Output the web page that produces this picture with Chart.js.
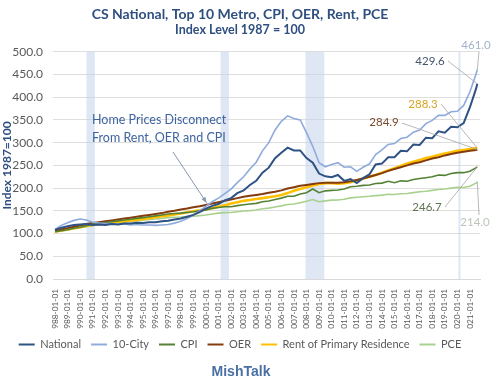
<!DOCTYPE html>
<html><head><meta charset="utf-8">
<script src="https://cdn.jsdelivr.net/npm/chart.js@4/dist/chart.umd.min.js"></script>
<style>html,body{margin:0;padding:0;background:#fff}#wrap{width:500px;height:382px;position:relative}</style>
</head><body><div id="wrap"><canvas id="c" width="500" height="382"></canvas></div>
<script>
// ---- data (semi-annual readings, Jan & Jul, plus last month) ----
const dates = ["1988-01","1988-07","1989-01","1989-07","1990-01","1990-07","1991-01","1991-07","1992-01","1992-07",
"1993-01","1993-07","1994-01","1994-07","1995-01","1995-07","1996-01","1996-07","1997-01","1997-07",
"1998-01","1998-07","1999-01","1999-07","2000-01","2000-07","2001-01","2001-07","2002-01","2002-07",
"2003-01","2003-07","2004-01","2004-07","2005-01","2005-07","2006-01","2006-07","2007-01","2007-07",
"2008-01","2008-07","2009-01","2009-07","2010-01","2010-07","2011-01","2011-07","2012-01","2012-07",
"2013-01","2013-07","2014-01","2014-07","2015-01","2015-07","2016-01","2016-07","2017-01","2017-07",
"2018-01","2018-07","2019-01","2019-07","2020-01","2020-07","2021-01","2021-07","2021-08"];
const national = [108,113,116,119,120,121,119,120,119,121,120,122,122,124,123,125,125,127,128,131,
133,137,141,147,155,161,165,173,178,189,195,207,216,234,245,266,278,289,283,283,
266,256,232,226,224,229,216,220,211,222,230,252,254,268,268,282,281,296,295,311,
310,325,322,335,334,343,378,420,429.6];
const tenCity = [109,118,124,129,132,130,125,123,122,122,120,121,119,120,119,119,118,119,120,123,
127,133,140,150,160,170,178,188,198,212,225,242,257,282,300,328,347,359,353,350,
322,292,256,247,252,256,246,247,237,246,253,274,284,296,298,309,312,323,328,342,
349,360,360,368,369,382,412,452,461.0];
const cpi = [104,106,108.5,111.5,114,117,121,122,124,126,128,130,131.5,133.5,135,137,139,141,143,144,
145,146.5,148,150,152,155.5,157.5,159,159,161.5,163.5,165,166.5,170,171.5,175,178,182,182,187,
190,198,190,194,195,196,198,203,204,206,207,210,211,215,212,216,215,219,221,223,
225,229,228,232,234,234,237,245,246.7];
const oer = [106,109,112,115,118,121,123,125,127,129,131,133,135,137,139,141,143,145,148,150,
153,155,158,160,163,166,169,172,175,178,181,183,185,187,190,192,195,199,202,205,
207,209,211,212,212,212,213,215,218,221,225,229,233,238,242,246,250,254,257,261,
265,268,272,275,278,280,282,284,284.9];
const rent = [104,107,109,112,114,117,119,121,123,124,126,127,129,130,132,134,136,138,140,142,
144,147,149,151,153,156,159,162,166,169,172,174,176,178,180,182,185,189,194,198,
202,206,209,211,211,210,211,213,217,221,225,229,234,239,244,249,254,258,262,266,
269,273,276,279,282,284,286,288,288.3];
const pce = [104,106,108,110.5,113,115,117.5,119,120.5,122,123.5,125,126.5,128,129.5,131,132,133.5,135,136,
136.5,137.5,138,139.5,141,143,145,146,146.5,148,149.5,150.5,152,154.5,156,158.5,161,164,165,168,
171,175,170,172,173.5,174,175.5,178.5,180,181,182,183.5,184.5,186.5,186,187.5,188,190,192,193,
195,197,198,200,202,201.5,204,211.5,214.0];
const seriesNames = ["National","10-City","CPI","OER","Rent of Primary Residence","PCE"];
const tickLabels = ["1988-01-01","1989-01-01","1990-01-01","1991-01-01","1992-01-01","1993-01-01","1994-01-01",
"1995-01-01","1996-01-01","1997-01-01","1998-01-01","1999-01-01","2000-01-01","2001-01-01","2002-01-01",
"2003-01-01","2004-01-01","2005-01-01","2006-01-01","2007-01-01","2008-01-01","2009-01-01","2010-01-01",
"2011-01-01","2012-01-01","2013-01-01","2014-01-01","2015-01-01","2016-01-01","2017-01-01","2018-01-01",
"2019-01-01","2020-01-01","2021-01-01"];
const recessions = [["1990-07","1991-03"],["2001-03","2001-11"],["2007-12","2009-06"],["2020-02","2020-04"]];
const yTicks = [0,50,100,150,200,250,300,350,400,450,500];

// ---- helpers ----
const toX = d => { const p = d.split('-').map(Number); return p[0] + (p[1]-1)/12; };
const pts = arr => arr.map((v,i)=>({x: toX(dates[i]), y: v}));
const FONT = "Lato, 'Open Sans', sans-serif";
const colors = ['#2e5283','#8faadc','#548235','#843c0c','#ffc000','#a9d18e'];
const widths = [2,1.6,1.6,2,2.6,1.6];
const allSeries = [national, tenCity, cpi, oer, rent, pce];

const bandPlugin = {
  id:'bands',
  beforeDatasetsDraw(chart){
    const {ctx, chartArea:a, scales:{x}} = chart;
    ctx.save();
    ctx.fillStyle = 'rgba(197,212,236,0.55)';
    recessions.forEach(([s,e])=>{
      const x1 = x.getPixelForValue(toX(s)), x2 = x.getPixelForValue(toX(e));
      ctx.fillRect(x1, a.top, Math.max(1.5, x2-x1), a.bottom-a.top);
    });
    ctx.restore();
  }
};

const notesPlugin = {
  id:'notes',
  afterDatasetsDraw(chart){
    const {ctx, scales:{x,y}} = chart;
    ctx.save();
    const notes = [
      {s:1, tx:476, ty:45, color:'#a3b3ca', fx:479, fy:52},
      {s:0, tx:430, ty:61, color:'#44546a', fx:448, fy:61},
      {s:4, tx:423, ty:104, color:'#d9a520', fx:441, fy:104},
      {s:3, tx:384, ty:122, color:'#7a4a2c', fx:402, fy:123},
      {s:2, tx:427, ty:207, color:'#5e7452', fx:445, fy:207},
      {s:5, tx:475, ty:222, color:'#bcc6b8', fx:479, fy:215}
    ];
    ctx.font = "11.5px " + FONT;
    ctx.textAlign = 'center'; ctx.textBaseline = 'middle';
    notes.forEach(n=>{
      const meta = chart.getDatasetMeta(n.s);
      const p = meta.data[meta.data.length-1];
      ctx.strokeStyle = '#a6a6a6'; ctx.lineWidth = 0.8;
      ctx.beginPath(); ctx.moveTo(n.fx, n.fy); ctx.lineTo(p.x, p.y); ctx.stroke();
      ctx.fillStyle = n.color;
      ctx.fillText(allSeries[n.s][allSeries[n.s].length-1].toFixed(1), n.tx, n.ty);
    });
    ctx.fillStyle = '#3d64a0';
    ctx.font = "12.5px " + FONT;
    ctx.textAlign = 'left';
    ctx.fillText('Home Prices Disconnect', 92, 120);
    ctx.fillText('From Rent, OER and CPI', 92, 138);
    const ax = x.getPixelForValue(2000.05), ay = y.getPixelForValue(168);
    const sx = 173, sy = 152;
    ctx.strokeStyle = '#8497b0'; ctx.lineWidth = 1;
    ctx.beginPath(); ctx.moveTo(sx, sy); ctx.lineTo(ax, ay); ctx.stroke();
    const ang = Math.atan2(ay-sy, ax-sx), L = 6;
    ctx.fillStyle = '#8497b0';
    ctx.beginPath();
    ctx.moveTo(ax, ay);
    ctx.lineTo(ax - L*Math.cos(ang-0.4), ay - L*Math.sin(ang-0.4));
    ctx.lineTo(ax - L*Math.cos(ang+0.4), ay - L*Math.sin(ang+0.4));
    ctx.closePath(); ctx.fill();
    ctx.fillStyle = '#4a6fa5';
    ctx.font = "bold 14px 'Liberation Sans', Arial, sans-serif";
    ctx.textAlign = 'center';
    ctx.fillText('MishTalk', 241, 372);
    ctx.restore();
  }
};

new Chart(document.getElementById('c'), {
  type:'line',
  data:{
    datasets: allSeries.map((arr,i)=>({
      label: seriesNames[i], data: pts(arr),
      borderColor: colors[i], backgroundColor: colors[i],
      borderWidth: widths[i], pointRadius:0, tension:0, fill:false
    }))
  },
  options:{
    responsive:false, animation:false, devicePixelRatio:1,
    layout:{padding:{left:0,right:20,top:0,bottom:22}},
    plugins:{
      title:{display:true, text:'CS National, Top 10 Metro, CPI, OER, Rent, PCE',
        font:{family:FONT, size:14, weight:'bold'}, color:'#2f4f80', padding:{top:6,bottom:0}},
      subtitle:{display:true, text:'Index Level 1987 = 100',
        font:{family:FONT, size:12.5, weight:'bold'}, color:'#2f4f80', padding:{top:0,bottom:14}},
      legend:{position:'bottom', labels:{font:{family:FONT,size:11}, color:'#595959', boxWidth:16, boxHeight:2, padding:10,
        generateLabels: ch => Chart.defaults.plugins.legend.labels.generateLabels(ch).map(l=>({...l, lineWidth:0, fillStyle:l.strokeStyle}))}},
      tooltip:{enabled:false}
    },
    scales:{
      x:{type:'linear', min:1987.84, max:2021.8,
        afterBuildTicks: s => { s.ticks = tickLabels.map(t=>({value: toX(t.slice(0,7))})); },
        ticks:{autoSkip:false, minRotation:90, maxRotation:90, padding:2, color:'#595959',
          font:{family:FONT, size:8.3}, callback:(v,i)=>tickLabels[i]},
        grid:{display:false}, border:{color:'#d9d9d9'},
        afterFit: s => { s.height = 50; }
      },
      y:{min:0, max:500,
        afterBuildTicks: s => { s.ticks = yTicks.map(v=>({value:v})); },
        ticks:{color:'#595959', font:{family:FONT,size:12}, padding:10, callback:v=>v.toFixed(1)},
        grid:{color:'#dedede', drawTicks:false}, border:{display:false},
        title:{display:true, text:'Index 1987=100', color:'#2f4f80', font:{family:FONT,size:12,weight:'bold'}, padding:0},
        afterFit: s => { s.width = 53; }
      }
    }
  },
  plugins:[bandPlugin, notesPlugin]
});
</script></body></html>
